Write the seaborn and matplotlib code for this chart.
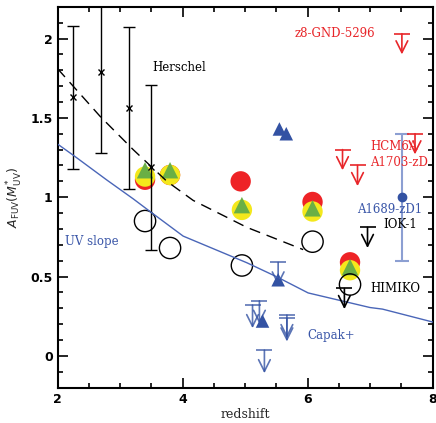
import numpy as np
import pandas as pd
import matplotlib
matplotlib.use("Agg")
import matplotlib.pyplot as plt
import seaborn as sns
from matplotlib.ticker import MultipleLocator

# ---------------- data ----------------
# Herschel stacking (x markers with error bars)
herschel_z = [2.25, 2.70, 3.15, 3.50]
herschel_a = [1.63, 1.79, 1.56, 1.19]
herschel_lo = [1.18, 1.28, 1.05, 0.67]
herschel_hi = [2.08, 2.35, 2.07, 1.71]

# dashed model curve
dash_z = [2.0, 2.68, 3.21, 3.75, 4.17, 5.03, 5.93]
dash_a = [1.81, 1.51, 1.30, 1.10, 0.98, 0.81, 0.67]

# UV slope curve
uv_z = [2.0, 2.25, 2.79, 3.21, 3.48, 4.01, 5.03, 5.5, 6.01, 7.0, 7.2, 8.0]
uv_a = [1.335, 1.265, 1.108, 0.99, 0.91, 0.755, 0.587, 0.50, 0.397, 0.305, 0.295, 0.214]

# open circles
open_z = [3.40, 3.80, 4.95, 6.08, 6.68]
open_a = [0.85, 0.68, 0.57, 0.72, 0.45]

# filled red / yellow circles and green triangles
red_z = [3.40, 3.80, 4.93, 6.08, 6.68]
red_a = [1.11, 1.14, 1.10, 0.97, 0.59]
yellow_z = [3.40, 3.80, 4.95, 6.08, 6.68]
yellow_a = [1.13, 1.14, 0.92, 0.91, 0.54]
green_z = [3.40, 3.80, 4.95, 6.08, 6.68]
green_a = [1.17, 1.17, 0.95, 0.93, 0.56]

# Capak+ (blue filled triangles) and blue upper limits
capak_z = [5.55, 5.66, 5.53, 5.28]
capak_a = [1.43, 1.40, 0.48, 0.22]
capak_lim_z = [5.12, 5.23, 5.53, 5.67, 5.67, 5.31]
capak_lim_a = [0.32, 0.347, 0.589, 0.257, 0.236, 0.036]

# red upper limits (z8-GND-5296, HCM6A, A1703-zD, ...)
red_lim_z = [7.51, 7.72, 6.56, 6.80]
red_lim_a = [2.03, 1.40, 1.30, 1.20]

# black upper limits (IOK-1, HIMIKO)
blk_lim_z = [6.96, 6.59]
blk_lim_a = [0.81, 0.425]

# A1689-zD1
a1689_z = [7.51]
a1689_a = [1.00]
a1689_lo = [0.60]
a1689_hi = [1.40]

labels = ["Herschel", "z8-GND-5296", "HCM6A", "A1703-zD", "A1689-zD1",
          "IOK-1", "HIMIKO", "Capak+", "UV slope"]
label_z = [3.51, 5.80, 7.00, 7.00, 6.79, 7.21, 7.00, 5.99, 2.12]
label_a = [1.82, 2.03, 1.32, 1.22, 0.92, 0.83, 0.425, 0.126, 0.72]
label_col = ["black", "#e8262a", "#e8262a", "#e8262a", "#3a56a8",
             "black", "black", "#3a56a8", "#3a56a8"]

# ---------------- style ----------------
sns.set_theme(style="ticks")
plt.rcParams["font.family"] = ["DejaVu Sans"]
RED = "#ee2326"
YEL = "#f4e81c"
GRN = "#6aaf45"
BLU = "#3352a3"
BLU_L = "#4a66b8"

fig = plt.figure(figsize=(4.36, 4.23), dpi=100)
ax = fig.add_axes([0.132, 0.0835, 0.860, 0.9005])

# filled marker groups
sns.scatterplot(x=red_z, y=red_a, ax=ax, color=RED, s=215, marker="o",
                edgecolor="none", linewidth=0, legend=False, zorder=3)
sns.scatterplot(x=yellow_z, y=yellow_a, ax=ax, color=YEL, s=215, marker="o",
                edgecolor="none", linewidth=0, legend=False, zorder=4)
sns.scatterplot(x=green_z, y=green_a, ax=ax, color=GRN, s=140, marker="^",
                edgecolor="none", linewidth=0, legend=False, zorder=5)

# open circles
ax.scatter(open_z, open_a, s=235, facecolors="none", edgecolors="black",
           linewidths=1.0, zorder=6)

# Capak triangles
sns.scatterplot(x=capak_z, y=capak_a, ax=ax, color=BLU, s=95, marker="^",
                edgecolor="none", linewidth=0, legend=False, zorder=5)

# Herschel
h_err = [np.array(herschel_a) - np.array(herschel_lo),
         np.array(herschel_hi) - np.array(herschel_a)]
eb = ax.errorbar(herschel_z, herschel_a, yerr=h_err, fmt="x", color="black",
                 ms=4, mew=1.0, ecolor="black", elinewidth=1.0, capsize=4,
                 capthick=1.0, zorder=7)
for c in eb[1]:
    c.set_color("#777777")

# A1689
a_err = [np.array(a1689_a) - np.array(a1689_lo),
         np.array(a1689_hi) - np.array(a1689_a)]
eb2 = ax.errorbar(a1689_z, a1689_a, yerr=a_err, fmt="o", color=BLU, ms=6,
                  ecolor="#8c9fd2", elinewidth=1.5, capsize=5, capthick=1.5,
                  zorder=7)

# lines
sns.lineplot(x=dash_z, y=dash_a, ax=ax, color="black", lw=1.0, sort=False,
             estimator=None, zorder=8)
ax.lines[-1].set_dashes([8, 5])
sns.lineplot(x=uv_z, y=uv_a, ax=ax, color=BLU_L, lw=1.0, sort=False,
             estimator=None, zorder=8)


def limits(zs, As, color, L, alpha=1.0):
    ax.scatter(zs, As, marker="_", s=140, color=color, linewidths=1.2,
               alpha=alpha, zorder=9)
    for z, a in zip(zs, As):
        ax.annotate("", xy=(z, a - L), xytext=(z, a),
                    arrowprops=dict(arrowstyle="->,head_length=0.7,head_width=0.35",
                                    color=color, lw=1.2, alpha=alpha,
                                    shrinkA=0, shrinkB=0), zorder=9)


limits(red_lim_z, red_lim_a, "#e8262a", 0.13)
limits(blk_lim_z, blk_lim_a, "black", 0.13)
limits(capak_lim_z, capak_lim_a, BLU, 0.145, alpha=0.8)

for t, z, a, c in zip(labels, label_z, label_a, label_col):
    ax.text(z, a, t, color=c, fontsize=8.5, family="DejaVu Serif",
            ha="left", va="center", zorder=10)

ax.set_xlim(2, 8)
ax.set_ylim(-0.2, 2.2)
ax.xaxis.set_major_locator(MultipleLocator(2))
ax.xaxis.set_minor_locator(MultipleLocator(0.5))
ax.yaxis.set_major_locator(MultipleLocator(0.5))
ax.yaxis.set_minor_locator(MultipleLocator(0.1))
ax.set_yticks([0, 0.5, 1, 1.5, 2])
ax.set_yticklabels(["0", "0.5", "1", "1.5", "2"])
ax.tick_params(which="both", direction="in", top=True, right=True,
               labelsize=9, width=1.2, colors="black")
ax.tick_params(which="major", length=7)
ax.tick_params(which="minor", length=3.5)
for lab in ax.get_xticklabels() + ax.get_yticklabels():
    lab.set_fontweight("bold")
for s in ax.spines.values():
    s.set_linewidth(1.5)
    s.set_color("black")

ax.set_xlabel("redshift", family="DejaVu Serif", fontsize=9, labelpad=2)
ax.set_ylabel(r"$A_{\rm FUV}(M^{*}_{\rm UV})$", fontsize=9, labelpad=4)

fig.savefig("out.png", dpi=100)
